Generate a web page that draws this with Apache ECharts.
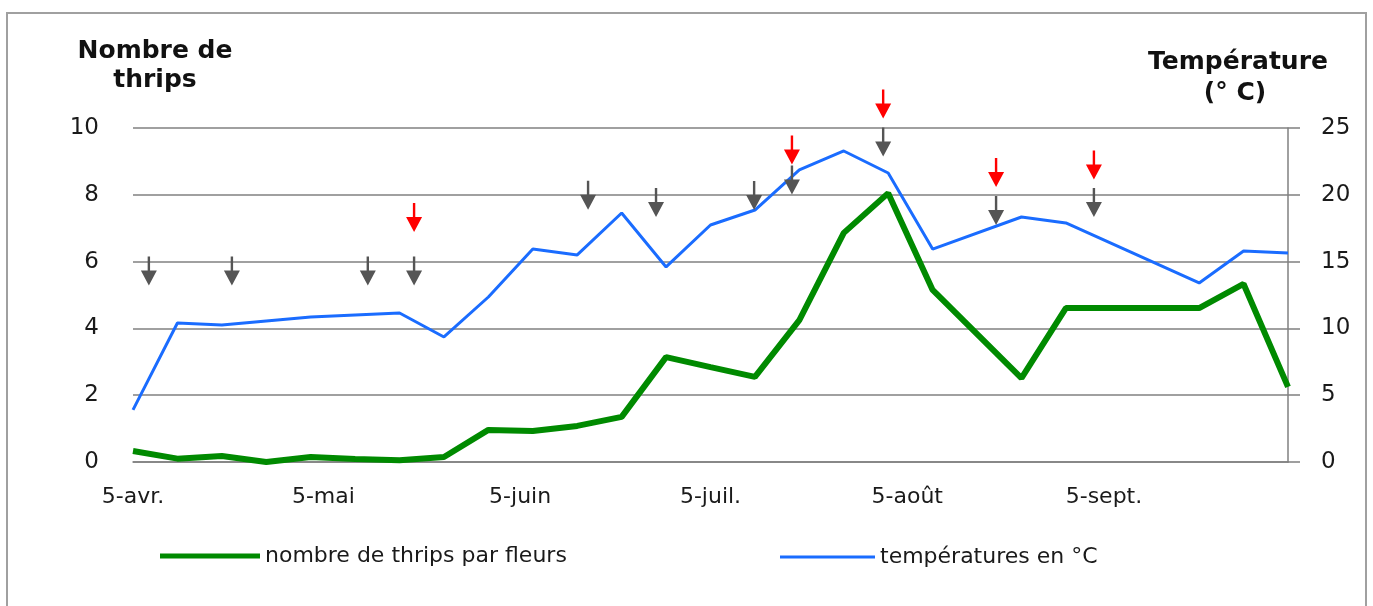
<!DOCTYPE html>
<html>
<head>
<meta charset="utf-8">
<script src="https://cdn.jsdelivr.net/npm/echarts@6/dist/echarts.min.js"></script>
<style>
  html, body { margin: 0; padding: 0; background: #ffffff; }
  #chart { width: 1373px; height: 606px; }
</style>
</head>
<body>
<div id="chart"></div>
<script>
// données (relevés hebdomadaires)
const dates = ['2010-04-05', '2010-04-12', '2010-04-19', '2010-04-26', '2010-05-03', '2010-05-10',
  '2010-05-17', '2010-05-24', '2010-05-31', '2010-06-07', '2010-06-14', '2010-06-21',
  '2010-06-28', '2010-07-05', '2010-07-12', '2010-07-19', '2010-07-26', '2010-08-02',
  '2010-08-09', '2010-08-23', '2010-08-30', '2010-09-20', '2010-09-27', '2010-10-04'];
const thrips = [0.33, 0.1, 0.18, 0.0, 0.15, 0.09, 0.05, 0.15, 0.96, 0.93, 1.08, 1.35,
  3.14, 2.84, 2.55, 4.25, 6.86, 8.05, 5.15, 2.51, 4.61, 4.61, 5.33, 2.25];
const temps = [3.9, 10.4, 10.25, 10.55, 10.85, 11.0, 11.15, 9.36, 12.35, 15.95, 15.5, 18.64,
  14.6, 17.74, 18.86, 21.86, 23.28, 21.63, 15.94, 18.34, 17.89, 13.4, 15.8, 15.64];

// flèches (traitements) : date et hauteur sur l'axe de gauche
const grayArrowDates = ['2010-04-07 12:00', '2010-04-20 14:00', '2010-05-12', '2010-05-19 07:00',
  '2010-06-15 17:00', '2010-06-26 10:00', '2010-07-11 21:00', '2010-07-17 20:00',
  '2010-08-01 05:00', '2010-08-19', '2010-09-03 10:00'];
const grayArrowLevels = [5.72, 5.72, 5.72, 5.72, 7.99, 7.77, 7.98, 8.44, 9.58, 7.53, 7.77];
const redArrowDates = ['2010-05-19 07:00', '2010-07-17 20:00', '2010-08-01 05:00', '2010-08-19', '2010-09-03 10:00'];
const redArrowLevels = [7.32, 9.34, 10.72, 8.67, 8.89];

// graduations
const xTickDates = ['2010-04-05', '2010-05-05', '2010-06-05', '2010-07-05', '2010-08-05', '2010-09-05'];
const xTickLabels = ['5-avr.', '5-mai', '5-juin', '5-juil.', '5-août', '5-sept.'];
const leftTicks = [0, 2, 4, 6, 8, 10];
const rightTicks = [0, 5, 10, 15, 20, 25];

const FONT = 'DejaVu Sans';
const arrowPath = 'path://M6.8,0L9.2,0L9.2,14L16,14L8,29L0,14L6.8,14Z';

// dates -> millisecondes (UTC) pour un axe numérique
function ts(s) {
  const m = s.match(/^(\d+)-(\d+)-(\d+)(?: (\d+):(\d+))?$/);
  return Date.UTC(+m[1], +m[2] - 1, +m[3], m[4] ? +m[4] : 0, m[5] ? +m[5] : 0);
}
const tickTs = xTickDates.map(ts);

const chart = echarts.init(document.getElementById('chart'), null, { renderer: 'canvas' });

const option = {
  animation: false,
  backgroundColor: '#ffffff',
  grid: { left: 133, right: 85, top: 128, bottom: 144, containLabel: false },
  xAxis: {
    type: 'value',
    min: ts(dates[0]),
    max: ts(dates[dates.length - 1]),
    axisLine: { show: true, lineStyle: { color: '#808080', width: 1.5 } },
    axisTick: { show: false },
    splitLine: { show: false },
    axisLabel: {
      customValues: tickTs,
      margin: 24,
      color: '#1a1a1a',
      fontFamily: FONT,
      fontSize: 22,
      formatter: function (v) {
        const i = tickTs.indexOf(v);
        return i >= 0 ? xTickLabels[i] : '';
      }
    }
  },
  yAxis: [
    {
      type: 'value',
      min: leftTicks[0],
      max: leftTicks[leftTicks.length - 1],
      interval: 2,
      axisLine: { show: false },
      axisTick: { show: false },
      splitLine: { show: true, lineStyle: { color: '#808080', width: 1.5 } },
      axisLabel: { margin: 34, color: '#1a1a1a', fontFamily: FONT, fontSize: 23 }
    },
    {
      type: 'value',
      position: 'right',
      min: rightTicks[0],
      max: rightTicks[rightTicks.length - 1],
      interval: 5,
      axisLine: { show: true, lineStyle: { color: '#808080', width: 1.5 } },
      axisTick: { show: true, length: 12, lineStyle: { color: '#808080', width: 1.5 } },
      splitLine: { show: false },
      axisLabel: { margin: 33, color: '#1a1a1a', fontFamily: FONT, fontSize: 23 }
    }
  ],
  legend: [
    {
      data: ['nombre de thrips par fleurs'],
      left: 155, top: 540,
      icon: 'rect', itemWidth: 100, itemHeight: 5, itemGap: 0,
      textStyle: { color: '#1a1a1a', fontFamily: FONT, fontSize: 22 }
    },
    {
      data: ['températures en °C'],
      left: 775, top: 541,
      icon: 'rect', itemWidth: 95, itemHeight: 3, itemGap: 0,
      textStyle: { color: '#1a1a1a', fontFamily: FONT, fontSize: 22 }
    }
  ],
  graphic: [
    {
      type: 'rect', silent: true,
      shape: { x: 7, y: 13, width: 1359, height: 610 },
      style: { fill: 'none', stroke: '#a0a0a0', lineWidth: 2 }
    },
    {
      type: 'text', x: 155, y: 51,
      style: { text: 'Nombre de', fontFamily: FONT, fontSize: 25, fontWeight: 'bold', fill: '#111', align: 'center', verticalAlign: 'middle' }
    },
    {
      type: 'text', x: 155, y: 80,
      style: { text: 'thrips', fontFamily: FONT, fontSize: 25, fontWeight: 'bold', fill: '#111', align: 'center', verticalAlign: 'middle' }
    },
    {
      type: 'text', x: 1238, y: 62,
      style: { text: 'Température', fontFamily: FONT, fontSize: 25, fontWeight: 'bold', fill: '#111', align: 'center', verticalAlign: 'middle' }
    },
    {
      type: 'text', x: 1235, y: 93,
      style: { text: '(° C)', fontFamily: FONT, fontSize: 25, fontWeight: 'bold', fill: '#111', align: 'center', verticalAlign: 'middle' }
    }
  ],
  series: [
    {
      name: 'nombre de thrips par fleurs',
      type: 'line',
      yAxisIndex: 0,
      showSymbol: false,
      symbol: 'none',
      color: '#008a00',
      lineStyle: { color: '#008a00', width: 6 },
      data: dates.map((d, i) => [ts(d), thrips[i]]),
      z: 3
    },
    {
      name: 'températures en °C',
      type: 'line',
      yAxisIndex: 1,
      showSymbol: false,
      symbol: 'none',
      color: '#1a6cff',
      lineStyle: { color: '#1a6cff', width: 3 },
      data: dates.map((d, i) => [ts(d), temps[i]]),
      z: 2
    },
    {
      name: 'flèches grises',
      type: 'scatter',
      yAxisIndex: 0,
      clip: false,
      silent: true,
      symbol: arrowPath,
      symbolSize: [16, 29],
      itemStyle: { color: '#555555', opacity: 1 },
      data: grayArrowDates.map((d, i) => [ts(d), grayArrowLevels[i]]),
      z: 4
    },
    {
      name: 'flèches rouges',
      type: 'scatter',
      yAxisIndex: 0,
      clip: false,
      silent: true,
      symbol: arrowPath,
      symbolSize: [16, 29],
      itemStyle: { color: '#ff0000', opacity: 1 },
      data: redArrowDates.map((d, i) => [ts(d), redArrowLevels[i]]),
      z: 4
    }
  ]
};

chart.setOption(option);
</script>
</body>
</html>
